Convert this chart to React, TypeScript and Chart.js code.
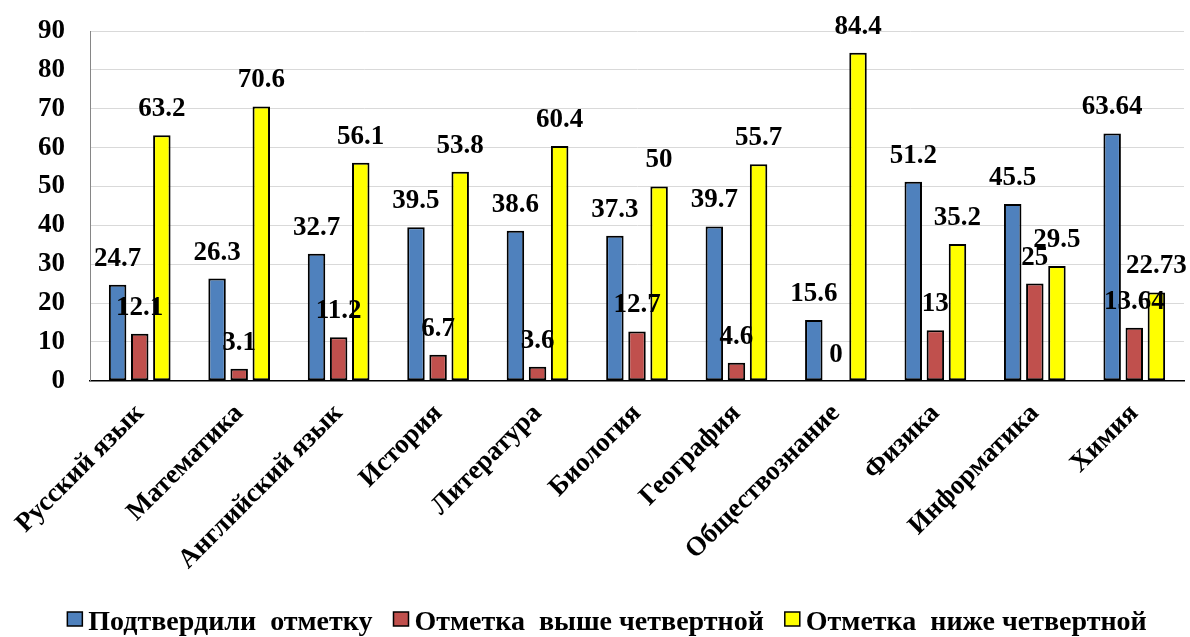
import React, { useEffect, useRef } from "react";
import { Chart, registerables } from "chart.js";

Chart.register(...registerables);

const categories = [
  "Русский язык",
  "Математика",
  "Английский язык",
  "История",
  "Литература",
  "Биология",
  "География",
  "Обществознание",
  "Физика",
  "Информатика",
  "Химия",
];

const confirmed = [24.7, 26.3, 32.7, 39.5, 38.6, 37.3, 39.7, 15.6, 51.2, 45.5, 63.64];
const higher = [12.1, 3.1, 11.2, 6.7, 3.6, 12.7, 4.6, 0, 13, 25, 13.64];
const lower = [63.2, 70.6, 56.1, 53.8, 60.4, 50, 55.7, 84.4, 35.2, 29.5, 22.73];

const seriesNames = ["Подтвердили  отметку", "Отметка  выше четвертной", "Отметка  ниже четвертной"];

const FONT = '"Liberation Serif", "Times New Roman", serif';

const valueLabels = {
  id: "valueLabels",
  afterDatasetsDraw(chart: any) {
    const ctx = chart.ctx;
    ctx.save();
    ctx.font = `bold 27px ${FONT}`;
    ctx.fillStyle = "#000";
    ctx.textAlign = "center";
    ctx.textBaseline = "middle";
    chart.data.datasets.forEach((ds: any, i: number) => {
      const meta = chart.getDatasetMeta(i);
      meta.data.forEach((el: any, j: number) => {
        ctx.fillText(String(ds.data[j]), el.x, el.y - 26);
      });
    });
    ctx.restore();
  },
};

// Legend drawn as real canvas text, spaced like the reference
const bottomLegend = {
  id: "bottomLegend",
  afterDraw(chart: any) {
    const ctx = chart.ctx;
    ctx.save();
    ctx.font = `bold 28px ${FONT}`;
    const box = 15;
    const gapText = 6;
    const gapItem = 21;
    const items = chart.data.datasets.map((ds: any) => ({
      text: ds.label,
      color: ds.backgroundColor,
      w: ctx.measureText(ds.label).width,
    }));
    const total =
      items.reduce((s: number, it: any) => s + box + gapText + it.w, 0) + gapItem * (items.length - 1);
    let x = chart.width / 2 + 12 - total / 2;
    const baseline = chart.height - 7;
    const boxTop = chart.height - 25;
    items.forEach((it: any) => {
      ctx.fillStyle = it.color;
      ctx.fillRect(x, boxTop, box, box - 1);
      ctx.lineWidth = 1.5;
      ctx.strokeStyle = "#000";
      ctx.strokeRect(x, boxTop, box, box - 1);
      ctx.fillStyle = "#000";
      ctx.textAlign = "left";
      ctx.textBaseline = "alphabetic";
      ctx.fillText(it.text, x + box + gapText, baseline);
      x += box + gapText + it.w + gapItem;
    });
    ctx.restore();
  },
};

export default function App() {
  const ref = useRef<HTMLCanvasElement>(null);
  useEffect(() => {
    document.body.style.margin = "0";
    const common = {
      borderColor: "#000",
      borderWidth: 2,
      borderSkipped: false,
      categoryPercentage: 0.667,
      barPercentage: 0.79,
    };
    const chart = new Chart(ref.current!, {
      type: "bar",
      data: {
        labels: categories,
        datasets: [
          { label: seriesNames[0], data: confirmed, backgroundColor: "#4F81BD", ...common },
          { label: seriesNames[1], data: higher, backgroundColor: "#C0504D", ...common },
          { label: seriesNames[2], data: lower, backgroundColor: "#FFFF00", ...common },
        ],
      },
      options: {
        animation: false,
        responsive: false,
        maintainAspectRatio: false,
        layout: { padding: { top: 31, right: 6, left: 0, bottom: 52 } },
        plugins: {
          tooltip: { enabled: false },
          legend: { display: false },
        },
        scales: {
          x: {
            grid: { display: false },
            border: { display: true, color: "#000", width: 1.5 },
            ticks: {
              color: "#000",
              font: { family: FONT, size: 27, weight: "bold" },
              maxRotation: 45,
              minRotation: 45,
              autoSkip: false,
              padding: 9,
            },
          },
          y: {
            min: 0,
            max: 90,
            grid: {
              color: "#d9d9d9",
              lineWidth: 1,
              drawTicks: true,
              tickLength: 21,
              tickColor: "rgba(0,0,0,0)",
            },
            border: { display: true, color: "#868686", width: 1 },
            ticks: {
              stepSize: 10,
              color: "#000",
              font: { family: FONT, size: 27, weight: "bold" },
              padding: 4,
            },
            afterFit(scale: any) {
              scale.width = 90;
            },
          },
        },
      },
      plugins: [valueLabels, bottomLegend],
    });
    return () => chart.destroy();
  }, []);
  return (
    <div style={{ width: 1190, height: 637 }}>
      <canvas ref={ref} width={1190} height={637} style={{ width: 1190, height: 637 }} />
    </div>
  );
}
